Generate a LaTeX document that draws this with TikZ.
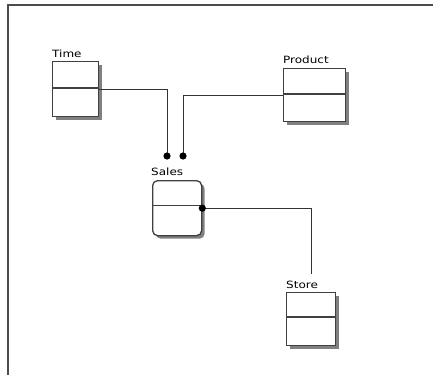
\documentclass[tikz,border=0pt]{standalone}
\usepackage{fontspec}
\newfontfamily\lblfont[FakeStretch=1.2]{DejaVu Sans}
\usetikzlibrary{shadows,calc}
\begin{document}
\begin{tikzpicture}[x=1pt,y=-1pt,
  entity/.style={draw=black!75, line width=1.3pt, fill=white, inner sep=0pt,
    anchor=north west,
    drop shadow={shadow xshift=3pt, shadow yshift=-3pt, fill=black!55, opacity=0.9}},
  divider/.style={draw=black!75, line width=1.3pt},
  conn/.style={draw=black!80, line width=1pt},
  dot/.style={fill=black},
  lbl/.style={anchor=base west, inner sep=0pt, font=\lblfont\fontsize{10}{12}\selectfont, text=black},
  frame/.style={draw=black!70, line width=2pt}]
\useasboundingbox (0,0) rectangle (433,375);
\fill[white] (0,0) rectangle (433,375);
\draw[frame] (8,375) -- (8,5) -- (433,5);

% entities
\node[entity, minimum width=46pt, minimum height=55pt] (time) at (52,61) {};
\node[entity, minimum width=62pt, minimum height=53pt] (product) at (283,68) {};
\node[entity, rounded corners=5pt, minimum width=49pt, minimum height=55pt] (sales) at (152,180) {};
\node[entity, minimum width=49pt, minimum height=53pt] (store) at (286,292) {};

% dividers
\draw[divider] ($(time.north west)+(0,27)$) -- ($(time.north east)+(0,27)$);
\draw[divider] ($(product.north west)+(0,26)$) -- ($(product.north east)+(0,26)$);
\draw[divider] ($(sales.north west)+(0,25.5)$) -- ($(sales.north east)+(0,25.5)$);
\draw[divider] ($(store.north west)+(0,25)$) -- ($(store.north east)+(0,25)$);

% labels
\node[lbl] (timelbl) at (52,57) {Time};
\node[lbl] (productlbl) at (283,63) {Product};
\node[lbl] (saleslbl) at (151,175.5) {Sales};
\node[lbl] (storelbl) at (286,288.5) {Store};

% connector ends
\coordinate (d1) at (167,156);
\coordinate (d2) at (183,156);
\coordinate (s1) at (311,274);

\draw[conn] (time.east) -| (d1);
\draw[conn] (product.west) -| (d2);
\draw[conn] (sales.east) -| (s1);

\fill[dot] (d1) circle (3.6);
\fill[dot] (d2) circle (3.6);
\fill[dot] (sales.east) circle (3.6);
\end{tikzpicture}
\end{document}
